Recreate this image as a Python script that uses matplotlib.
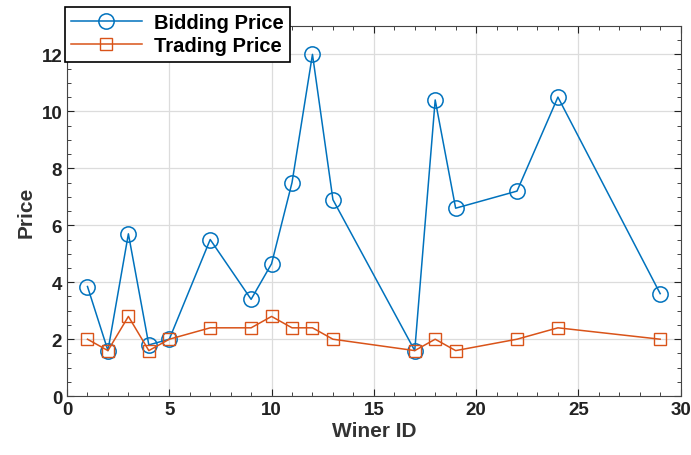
import numpy as np
import matplotlib.pyplot as plt
from matplotlib.ticker import MultipleLocator

plt.rcParams['font.family'] = ['Liberation Sans', 'DejaVu Sans']
plt.rcParams['font.weight'] = 'bold'

# winner ids and prices
winner_id = [1, 2, 3, 4, 5, 7, 9, 10, 11, 12, 13, 17, 18, 19, 22, 24, 29]
bidding_price = [3.85, 1.6, 5.7, 1.8, 2.0, 5.5, 3.4, 4.65, 7.5, 12.0, 6.9,
                 1.6, 10.4, 6.6, 7.2, 10.5, 3.6]
trading_price = [2.0, 1.6, 2.8, 1.6, 2.0, 2.4, 2.4, 2.8, 2.4, 2.4, 2.0,
                 1.6, 2.0, 1.6, 2.0, 2.4, 2.0]

fig = plt.figure(figsize=(6.91, 4.56), dpi=100)
ax = fig.add_axes([0.097, 0.129, 0.888, 0.812])

ax.plot(winner_id, bidding_price, '-o', color='#0072BD', lw=1.1,
        markersize=11, markerfacecolor='none', markeredgewidth=1.1,
        label='Bidding Price')
ax.plot(winner_id, trading_price, '-s', color='#D95319', lw=1.1,
        markersize=9, markerfacecolor='none', markeredgewidth=1.0,
        label='Trading Price')

ax.set_xlim(0, 30)
ax.set_ylim(0, 13)
ax.set_xticks(np.arange(0, 31, 5))
ax.set_yticks(np.arange(0, 13, 2))
ax.xaxis.set_minor_locator(MultipleLocator(1))
ax.yaxis.set_minor_locator(MultipleLocator(0.5))
ax.tick_params(which='both', direction='in', top=True, right=True,
               labelsize=13.5, colors='#222222')
ax.tick_params(which='major', length=5)
ax.tick_params(which='minor', length=3)
ax.grid(True, color='#dcdcdc', lw=0.9)
ax.set_axisbelow(True)
for s in ax.spines.values():
    s.set_color('#444444')

ax.set_xlabel('Winer ID', fontsize=15, fontweight='bold', color='#333333', labelpad=2)
ax.set_ylabel('Price', fontsize=15, fontweight='bold', color='#333333', labelpad=4)

leg = ax.legend(loc='upper left', bbox_to_anchor=(-0.003, 1.05), fontsize=14.5,
                handlelength=3.5, fancybox=False, framealpha=1,
                edgecolor='black', borderpad=0.3, labelspacing=0.2,
                handletextpad=0.6, borderaxespad=0)
leg.get_frame().set_linewidth(1.2)

fig.savefig('out.png', dpi=100)
